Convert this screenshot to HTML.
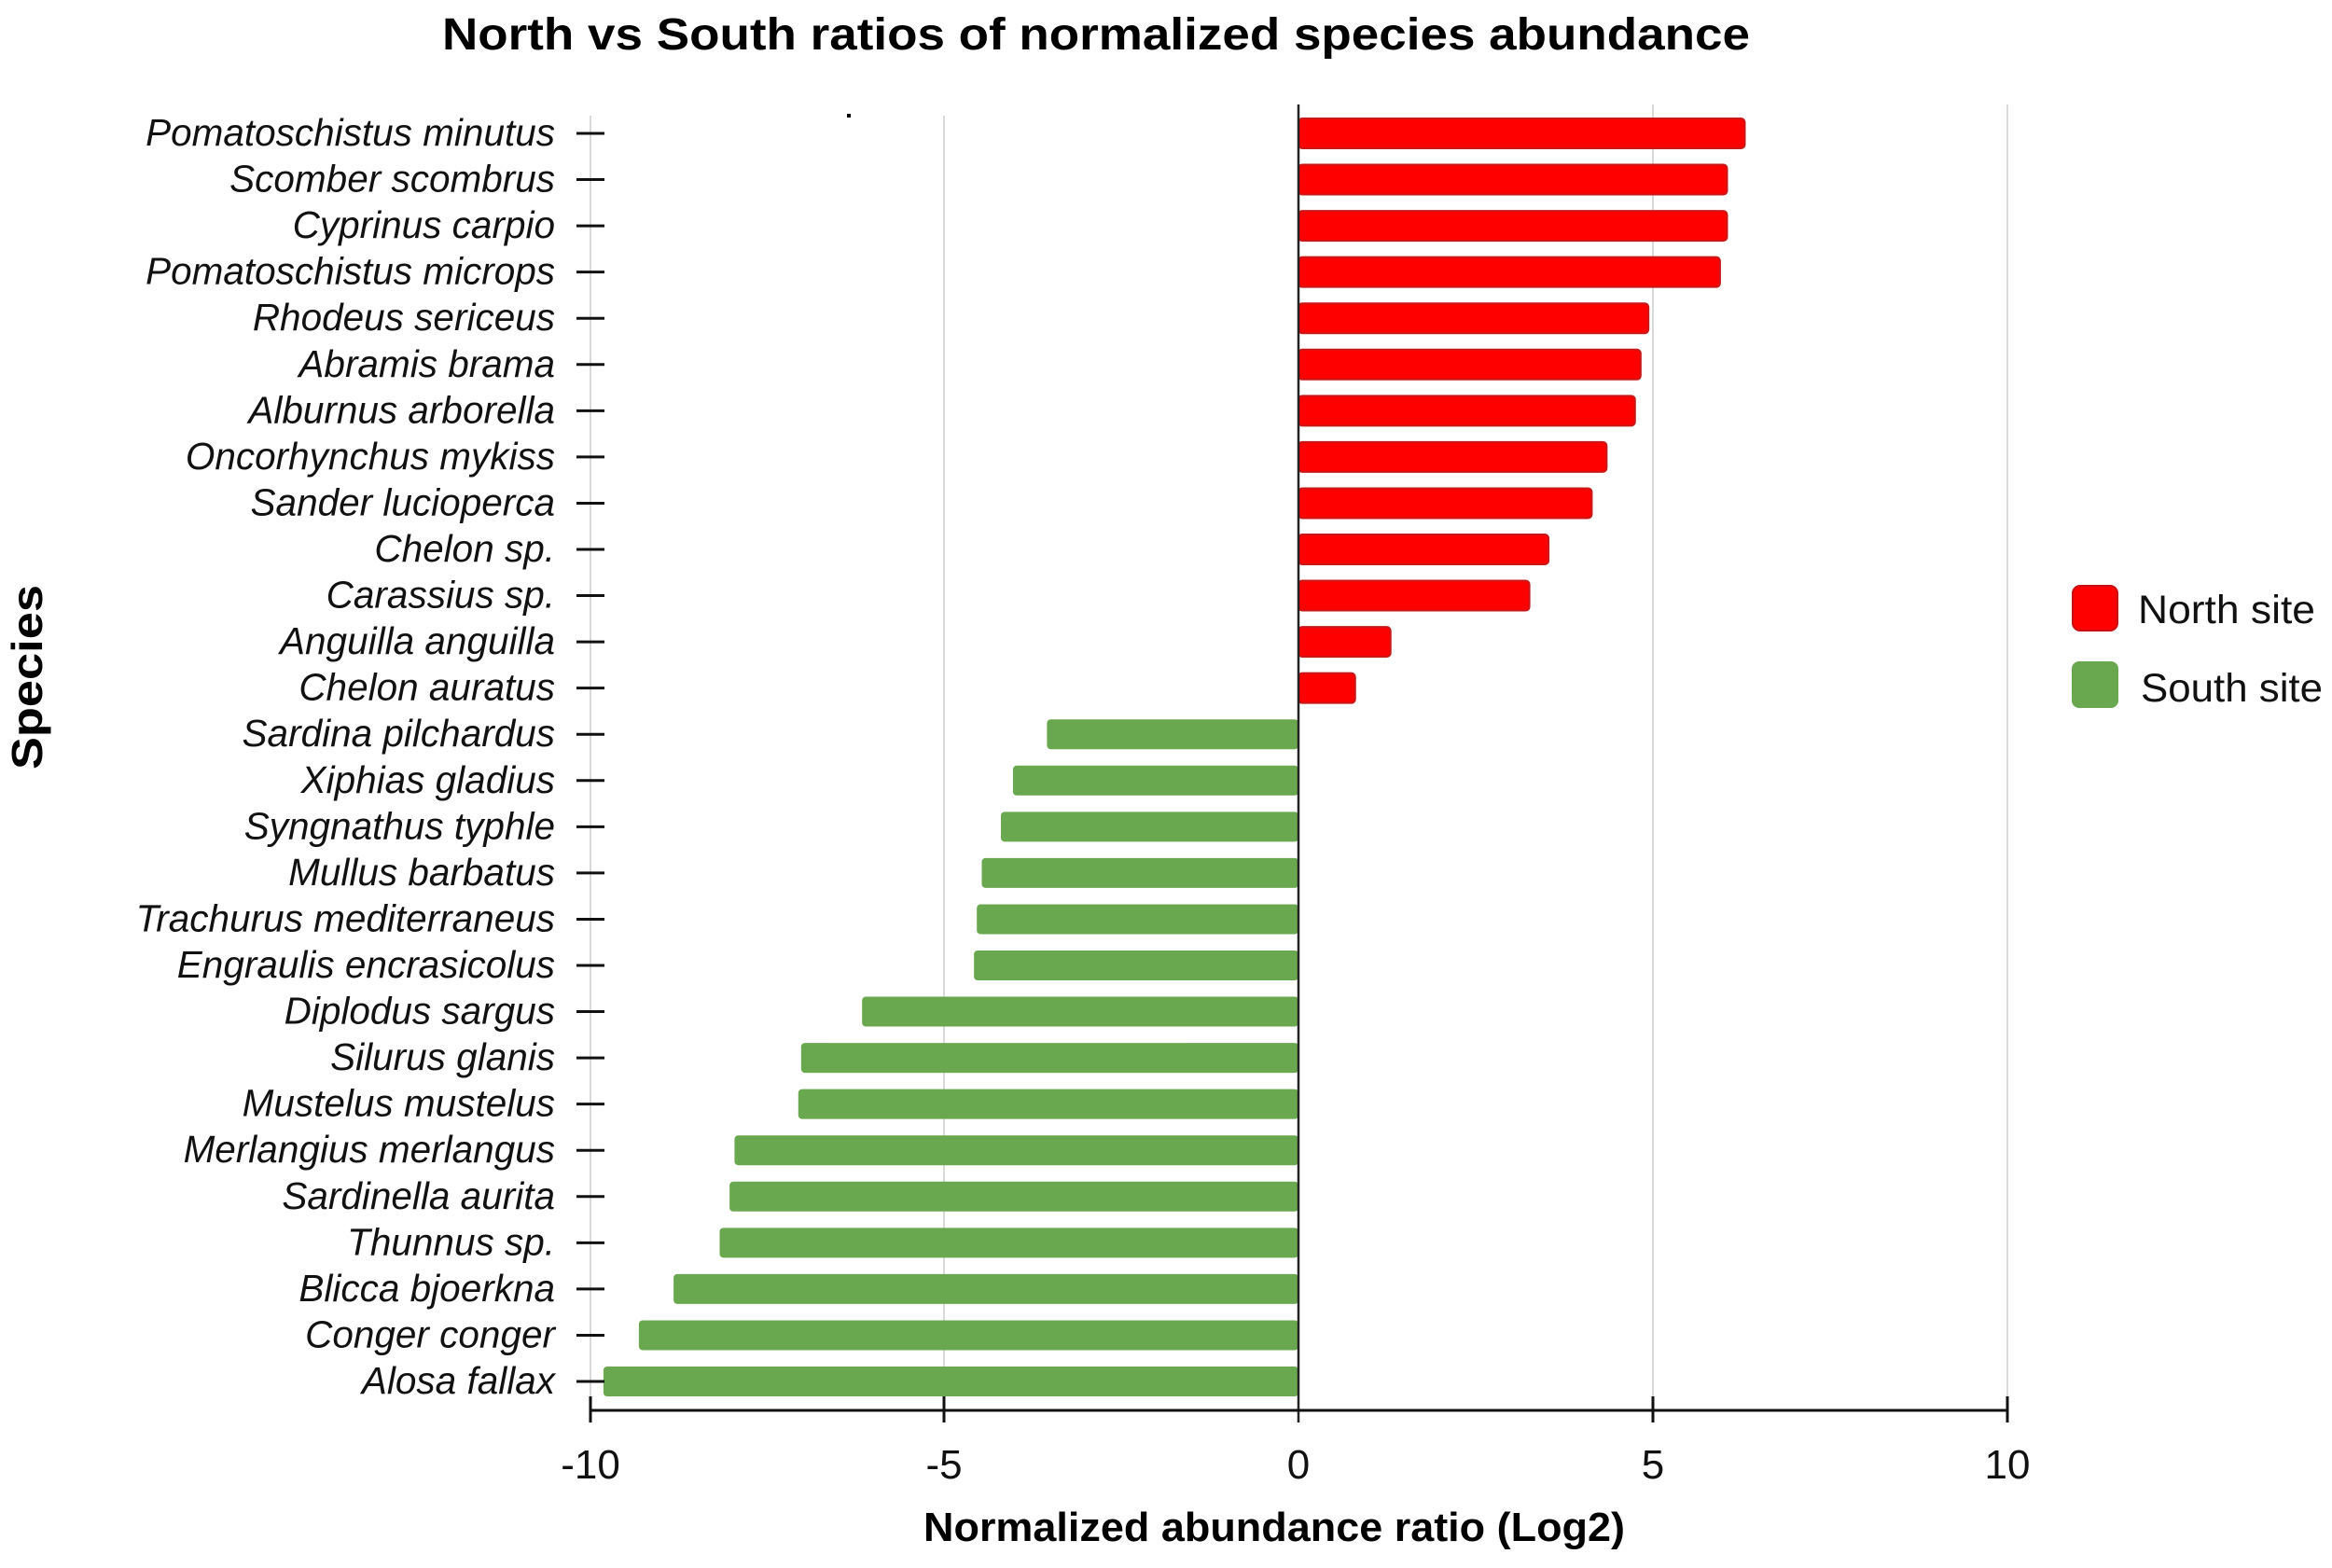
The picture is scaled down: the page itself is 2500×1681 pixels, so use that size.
<!DOCTYPE html>
<html><head><meta charset="utf-8"><style>html,body{margin:0;padding:0;background:#fff;overflow:hidden}svg{display:block}</style></head>
<body>
<svg width="2500" height="1681" xmlns="http://www.w3.org/2000/svg" font-family="Liberation Sans, sans-serif">
<rect width="2500" height="1681" fill="#fff"/>
<text x="1175" y="53" text-anchor="middle" font-weight="bold" font-size="48" textLength="1402" lengthAdjust="spacingAndGlyphs">North vs South ratios of normalized species abundance</text>
<g stroke="#d9d9d9" stroke-width="2">
<line x1="633" y1="124" x2="633" y2="1512"/>
<line x1="1012" y1="124" x2="1012" y2="1512"/>
<line x1="1772" y1="112" x2="1772" y2="1512"/>
<line x1="2152" y1="112" x2="2152" y2="1512"/>
</g>
<rect x="908" y="122" width="4" height="4" fill="#000"/>
<g id="bars"></g>
<line x1="1392" y1="112" x2="1392" y2="1525" stroke="#222" stroke-width="2.5"/>
<line x1="633" y1="1512" x2="2152" y2="1512" stroke="#111" stroke-width="3"/>
<g stroke="#111" stroke-width="3">
<line x1="633" y1="1497" x2="633" y2="1525"/>
<line x1="1012" y1="1497" x2="1012" y2="1525"/>
<line x1="1772" y1="1497" x2="1772" y2="1525"/>
<line x1="2152" y1="1497" x2="2152" y2="1525"/>
</g>
<g font-size="44" text-anchor="middle" fill="#111">
<text x="633" y="1585">-10</text><text x="1012" y="1585">-5</text><text x="1392" y="1585">0</text><text x="1772" y="1585">5</text><text x="2152" y="1585">10</text>
</g>
<text x="1366" y="1652" text-anchor="middle" font-weight="bold" font-size="44" textLength="752" lengthAdjust="spacingAndGlyphs">Normalized abundance ratio (Log2)</text>
<text transform="translate(45,726) rotate(-90)" text-anchor="middle" font-weight="bold" font-size="46" textLength="198" lengthAdjust="spacingAndGlyphs">Species</text>
<rect x="2222" y="628" width="48" height="48" rx="8" fill="#ff0000" stroke="#c81010" stroke-width="2"/>
<text x="2292" y="668" font-size="43" fill="#111" textLength="190" lengthAdjust="spacingAndGlyphs">North site</text>
<rect x="2221" y="709" width="50" height="50" rx="8" fill="#6aa84f"/>
<text x="2295" y="752" font-size="43" fill="#111" textLength="195" lengthAdjust="spacingAndGlyphs">South site</text>
<g id="labels" font-size="40.5" font-style="italic" text-anchor="end" fill="#111"></g>
<g id="ticks" stroke="#111" stroke-width="3"></g>
</svg>
<script>
var d=[["Pomatoschistus minutus",6.3],["Scomber scombrus",6.05],["Cyprinus carpio",6.05],["Pomatoschistus microps",5.95],["Rhodeus sericeus",4.94],["Abramis brama",4.83],["Alburnus arborella",4.75],["Oncorhynchus mykiss",4.35],["Sander lucioperca",4.14],["Chelon sp.",3.53],["Carassius sp.",3.26],["Anguilla anguilla",1.3],["Chelon auratus",0.8],["Sardina pilchardus",-3.55],["Xiphias gladius",-4.03],["Syngnathus typhle",-4.2],["Mullus barbatus",-4.47],["Trachurus mediterraneus",-4.54],["Engraulis encrasicolus",-4.58],["Diplodus sargus",-6.16],["Silurus glanis",-7.02],["Mustelus mustelus",-7.06],["Merlangius merlangus",-7.96],["Sardinella aurita",-8.03],["Thunnus sp.",-8.17],["Blicca bjoerkna",-8.82],["Conger conger",-9.31],["Alosa fallax",-9.81]];
var NS="http://www.w3.org/2000/svg",b=document.getElementById("bars"),l=document.getElementById("labels"),t=document.getElementById("ticks");
var step=(1481-143)/27;
d.forEach(function(r,i){var y=143+i*step,v=r[1],w=Math.abs(v)*75.95,x=v>0?1392:1392-w;
var e=document.createElementNS(NS,"rect");e.setAttribute("x",x);e.setAttribute("y",y-16);e.setAttribute("width",w);e.setAttribute("height",32);e.setAttribute("rx",4);
if(v>0){e.setAttribute("fill","#ff0000");e.setAttribute("stroke","#c81818");e.setAttribute("stroke-width","2");}else{e.setAttribute("fill","#6aa84f");}
b.appendChild(e);
var s=document.createElementNS(NS,"text");s.setAttribute("x",595);s.setAttribute("y",y+13);s.textContent=r[0];l.appendChild(s);
var k=document.createElementNS(NS,"line");k.setAttribute("x1",618);k.setAttribute("x2",648);k.setAttribute("y1",y);k.setAttribute("y2",y);t.appendChild(k);});
</script>
</body></html>
